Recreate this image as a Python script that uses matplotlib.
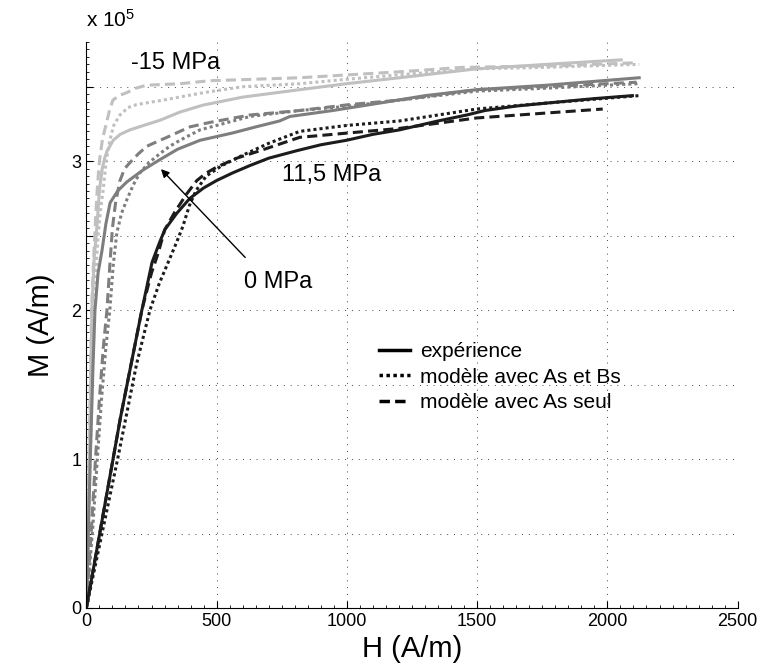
import matplotlib
matplotlib.use('Agg')
import matplotlib.pyplot as plt
from matplotlib.ticker import MultipleLocator

plt.rcParams['font.family'] = ['Liberation Sans', 'DejaVu Sans']
plt.rcParams['mathtext.default'] = 'regular'

# H in A/m, M in 1e5 A/m
# -15 MPa
H_m15_exp = [0, 12, 21, 30, 40, 50, 60, 70, 80, 103, 130, 167, 220, 283, 360, 447, 600, 819, 998, 1202, 1498, 1767, 2053]
M_m15_exp = [0, 1.0, 2.0, 2.35, 2.55, 2.80, 2.94, 3.02, 3.07, 3.14, 3.18, 3.21, 3.24, 3.275, 3.33, 3.376, 3.43, 3.48, 3.52, 3.56, 3.62, 3.65, 3.68]
H_m15_ab = [0, 15, 28, 45, 55, 64, 76, 90, 105, 129, 160, 193, 295, 450, 600, 819, 1000, 1202, 1498, 1767, 2122]
M_m15_ab = [0, 1.0, 2.0, 2.5, 2.68, 2.8, 3.0, 3.14, 3.24, 3.31, 3.36, 3.38, 3.41, 3.46, 3.50, 3.52, 3.55, 3.58, 3.62, 3.63, 3.65]
H_m15_as = [0, 10, 20, 28, 35, 42, 50, 62, 79, 90, 102, 125, 155, 190, 231, 359, 474, 819, 1202, 1445, 1800, 2100]
M_m15_as = [0, 1.0, 2.0, 2.35, 2.6, 2.82, 3.0, 3.15, 3.27, 3.35, 3.41, 3.44, 3.46, 3.49, 3.51, 3.52, 3.54, 3.56, 3.60, 3.63, 3.64, 3.66]

# 0 MPa
H_0_exp = [0, 15, 25, 33, 45, 60, 75, 91, 120, 155, 217, 282, 350, 436, 563, 650, 742, 781, 946, 1126, 1300, 1498, 1767, 2122]
M_0_exp = [0, 1.0, 1.6, 2.0, 2.25, 2.40, 2.58, 2.72, 2.80, 2.86, 2.94, 3.01, 3.08, 3.14, 3.19, 3.23, 3.27, 3.30, 3.34, 3.39, 3.44, 3.48, 3.51, 3.56]
H_0_ab = [0, 25, 42, 58, 75, 90, 103, 117, 135, 155, 180, 205, 240, 282, 320, 359, 436, 628, 819, 1010, 1202, 1498, 1767, 2115]
M_0_ab = [0, 0.55, 1.0, 1.4, 1.75, 2.0, 2.3, 2.52, 2.65, 2.74, 2.84, 2.92, 2.99, 3.05, 3.10, 3.14, 3.21, 3.30, 3.34, 3.37, 3.41, 3.47, 3.49, 3.52]
H_0_as = [0, 20, 35, 50, 65, 79, 90, 100, 112, 129, 147, 167, 200, 232, 270, 309, 397, 474, 628, 819, 1010, 1202, 1498, 1767, 2112]
M_0_as = [0, 0.55, 1.0, 1.4, 1.75, 2.0, 2.3, 2.55, 2.72, 2.87, 2.95, 2.99, 3.05, 3.10, 3.13, 3.16, 3.23, 3.26, 3.31, 3.34, 3.38, 3.41, 3.48, 3.50, 3.53]

# 11,5 MPa
H_115_exp = [0, 130, 213, 252, 280, 301, 347, 397, 450, 500, 560, 627, 700, 807, 900, 998, 1100, 1202, 1350, 1460, 1530, 1650, 1767, 1950, 2096]
M_115_exp = [0, 1.27, 2.0, 2.32, 2.45, 2.54, 2.65, 2.75, 2.82, 2.87, 2.92, 2.97, 3.02, 3.07, 3.11, 3.14, 3.18, 3.21, 3.27, 3.31, 3.34, 3.37, 3.39, 3.42, 3.44]
H_115_ab = [0, 120, 193, 244, 280, 309, 345, 370, 395, 420, 460, 520, 600, 700, 819, 1000, 1202, 1498, 1767, 2122]
M_115_ab = [0, 1.0, 1.64, 2.0, 2.18, 2.30, 2.45, 2.56, 2.70, 2.80, 2.90, 2.97, 3.04, 3.12, 3.20, 3.24, 3.27, 3.35, 3.39, 3.44]
H_115_as = [0, 130, 213, 250, 275, 301, 340, 385, 424, 460, 500, 577, 666, 819, 1010, 1202, 1498, 1982]
M_115_as = [0, 1.27, 2.0, 2.25, 2.38, 2.54, 2.66, 2.78, 2.87, 2.92, 2.96, 3.02, 3.07, 3.16, 3.19, 3.22, 3.29, 3.35]

light = '#c0c0c0'
mid = '#7e7e7e'
dark = '#1c1c1c'
lw = 2.2
dot = (1, 1)
dash = (3.3, 1.7)

fig = plt.figure(figsize=(7.63, 6.71), dpi=100)
ax = fig.add_axes([0.1132, 0.0939, 0.8536, 0.8435])

curves = [
    (H_m15_exp, M_m15_exp, light, None), (H_m15_ab, M_m15_ab, light, dot), (H_m15_as, M_m15_as, light, dash),
    (H_0_exp, M_0_exp, mid, None), (H_0_ab, M_0_ab, mid, dot), (H_0_as, M_0_as, mid, dash),
    (H_115_exp, M_115_exp, dark, None), (H_115_ab, M_115_ab, dark, dot), (H_115_as, M_115_as, dark, dash),
]
for h, m, c, d in curves:
    line, = ax.plot(h, m, color=c, lw=lw, solid_joinstyle='round')
    if d is not None:
        line.set_dashes(d)

ax.set_xlim(0, 2500)
ax.set_ylim(0, 3.8)
ax.set_xticks([0, 500, 1000, 1500, 2000, 2500])
ax.set_yticks([0, 0.5, 1, 1.5, 2, 2.5, 3, 3.5])
ax.set_yticklabels(['0', '', '1', '', '2', '', '3', ''])
ax.xaxis.set_minor_locator(MultipleLocator(50))
ax.yaxis.set_minor_locator(MultipleLocator(0.05))
ax.tick_params(which='both', direction='in', labelsize=13, top=False, right=False)
ax.tick_params(which='major', length=5, width=0.8)
ax.tick_params(which='minor', length=2, width=0.6)
ax.spines['top'].set_visible(False)
ax.spines['right'].set_visible(False)
ax.grid(True, which='major', color='#444444', lw=0.7, linestyle=(0, (1, 6)))
ax.set_axisbelow(True)

ax.set_xlabel('H (A/m)', fontsize=21, labelpad=4)
ax.set_ylabel('M (A/m)', fontsize=21, labelpad=12)
ax.text(0, 1.02, r'x 10$^5$', transform=ax.transAxes, fontsize=15, va='bottom', ha='left')

ax.text(173, 3.66, '-15 MPa', fontsize=17, va='center')
ax.text(751, 2.91, '11,5 MPa', fontsize=17, va='center')
ax.text(606, 2.19, '0 MPa', fontsize=17, va='center')
ax.annotate('', xy=(279, 2.96), xytext=(617, 2.34),
            arrowprops=dict(arrowstyle='-|>', color='black', lw=1, mutation_scale=12))

l1, = ax.plot([], [], color='black', lw=2.5)
l2, = ax.plot([], [], color='black', lw=2.5)
l2.set_dashes((1, 1))
l3, = ax.plot([], [], color='black', lw=2.5)
l3.set_dashes((3, 1.5))
ax.legend([l1, l2, l3], ['expérience', 'modèle avec As et Bs', 'modèle avec As seul'],
          loc='center left', bbox_to_anchor=(0.450, 0.408), frameon=False,
          fontsize=15, borderpad=0, borderaxespad=0, handlelength=1.45,
          handletextpad=0.5, labelspacing=0.3)

fig.savefig('out.png', dpi=100)
